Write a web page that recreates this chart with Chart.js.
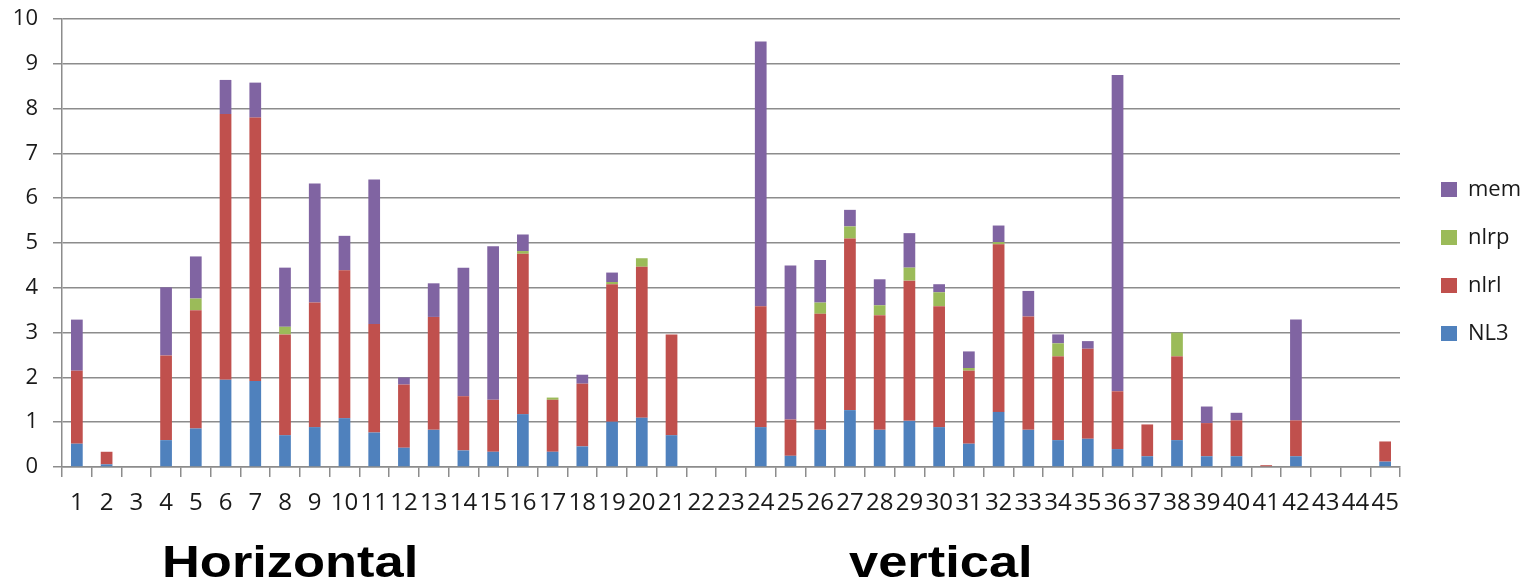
<!DOCTYPE html>
<html>
<head>
<meta charset="utf-8">
<script src="https://cdn.jsdelivr.net/npm/chart.js@4"></script>
<style>
  html, body { margin: 0; padding: 0; background: #fff; }
  #wrap { position: relative; width: 1521px; height: 588px; }
  .tag {
    position: absolute; font-family: "Liberation Sans", Arial, sans-serif;
    font-weight: bold; font-size: 45px; line-height: 1; color: #000;
    transform: scaleX(1.165); transform-origin: left top; white-space: nowrap;
  }
</style>
</head>
<body>
<div id="wrap">
  <canvas id="chart" width="1521" height="588"></canvas>
  <div class="tag" style="left:162px; top:539px;">Horizontal</div>
  <div class="tag" style="left:849px; top:539px;">vertical</div>
</div>
<script>
const labels = [];
for (let i = 1; i <= 45; i++) labels.push(String(i));

const nl3  = [0.52,0.06,0,0.60,0.86,1.95,1.92,0.71,0.89,1.09,0.77,0.43,0.83,0.37,0.34,1.18,0.34,0.46,1.01,1.10,0.71,0,0,0.89,0.25,0.83,1.27,0.83,1.03,0.89,0.52,1.23,0.83,0.60,0.63,0.40,0.24,0.60,0.24,0.24,0,0.24,0,0,0.12];
const nlrl = [1.63,0.28,0,1.89,2.64,5.93,5.88,2.25,2.78,3.30,2.42,1.41,2.52,1.21,1.16,3.58,1.16,1.40,3.07,3.37,2.25,0,0,2.70,0.81,2.59,3.83,2.56,3.13,2.70,1.63,3.74,2.53,1.87,2.01,1.29,0.71,1.87,0.74,0.80,0.04,0.80,0,0,0.45];
const nlrp = [0,0,0,0,0.26,0,0,0.17,0,0,0,0,0,0,0,0.06,0.05,0,0.05,0.19,0,0,0,0,0,0.25,0.27,0.22,0.29,0.31,0.06,0.05,0,0.29,0,0,0,0.53,0,0,0,0,0,0,0];
const mem  = [1.14,0,0,1.52,0.94,0.76,0.78,1.32,2.66,0.77,3.23,0.16,0.75,2.87,3.43,0.37,0,0.20,0.21,0,0,0,0,5.91,3.44,0.95,0.37,0.58,0.77,0.18,0.37,0.37,0.57,0.20,0.17,7.06,0,0,0.37,0.17,0,2.25,0,0,0];

const gridCol = "#8c8c8c";

function ds(label, data, color){
    return {
        label: label,
        data: data,
        backgroundColor: color,
        borderWidth: 0,
        barPercentage: 0.394,
        categoryPercentage: 1.0
    };
}

new Chart(document.getElementById("chart"), {
    type: "bar",
    data: {
        labels: labels,
        datasets: [
            ds("NL3", nl3, "#4F81BD"),
            ds("nlrl", nlrl, "#C0504D"),
            ds("nlrp", nlrp, "#9BBB59"),
            ds("mem", mem, "#8064A2")
        ]
    },
    options: {
        responsive: false,
        animation: false,
        layout: { padding: { left: 0, right: 0, top: 11, bottom: 76 } },
        plugins: {
            tooltip: { enabled: false },
            legend: {
                position: "right",
                reverse: true,
                maxWidth: 106,
                labels: {
                    boxWidth: 16,
                    boxHeight: 15,
                    padding: 26,
                    color: "#1a1a1a",
                    font: { family: "'Open Sans'", size: 22 }
                }
            }
        },
        scales: {
            x: {
                stacked: true,
                grid: {
                    offset: true,
                    drawOnChartArea: false,
                    drawTicks: true,
                    tickLength: 10,
                    color: gridCol,
                    lineWidth: 1.5
                },
                border: { color: gridCol, width: 1.5 },
                ticks: {
                    autoSkip: false,
                    maxRotation: 0,
                    minRotation: 0,
                    padding: 12,
                    color: "#1a1a1a",
                    font: { family: "'Open Sans'", size: 24 }
                },
                afterFit: s => { s.height = 45; }
            },
            y: {
                stacked: true,
                min: 0,
                max: 10,
                grid: { color: gridCol, lineWidth: 1.5, tickLength: 9 },
                border: { color: gridCol, width: 1.5 },
                ticks: {
                    stepSize: 1,
                    padding: 15,
                    color: "#1a1a1a",
                    font: { family: "'Open Sans'", size: 22 }
                },
                // plot top sits at 19px, legend keeps the 11px outer padding
                afterFit: s => { s.width = 62; s.paddingTop = 19; s.paddingBottom = 0; }
            },
            gap: {
                position: "right",
                display: true,
                grid: { display: false },
                border: { display: false },
                ticks: { display: false },
                afterFit: s => { s.width = 15; s.paddingTop = 0; s.paddingBottom = 0; }
            }
        }
    }
});
</script>
</body>
</html>
